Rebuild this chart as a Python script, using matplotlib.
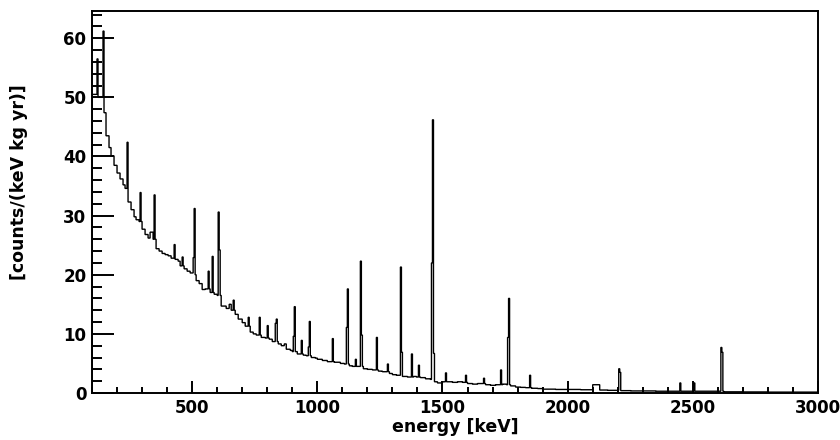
import numpy as np
import matplotlib
matplotlib.use("Agg")
import matplotlib.pyplot as plt
from matplotlib.ticker import MultipleLocator
from matplotlib.transforms import ScaledTranslation

# ---- data ----
# continuum: step values, each starting at the given energy (keV)
cont_e = [100, 124, 148, 156, 166, 176, 186, 200, 210, 222, 232, 244, 256, 266, 276,
          288, 300, 312, 322, 332, 342, 356, 368, 380, 392, 404, 416, 432, 444, 452,
          468, 480, 492, 504, 516, 528, 540, 552, 572, 588, 600, 616, 636, 648, 656,
          672, 684, 700, 712, 732, 744, 756, 776, 790, 808, 820, 844, 856, 868, 876,
          890, 900, 920, 944, 956, 976, 990, 1000, 1020, 1040, 1068, 1090, 1105, 1128,
          1140, 1184, 1200, 1220, 1244, 1260, 1288, 1300, 1316, 1340, 1360, 1384, 1395,
          1412, 1430, 1450, 1468, 1480, 1500, 1520, 1540, 1560, 1580, 1600, 1620, 1640,
          1672, 1690, 1710, 1740, 1756, 1772, 1790, 1810, 1830, 1856, 1880, 1900, 1950,
          2000, 2050, 2100, 2128, 2160, 2212, 2250, 2300, 2350, 2400, 2452, 2500, 2508,
          2560, 2600, 2624, 2700, 2800, 2900]
cont_v = [50.5, 50.0, 47.4, 43.5, 41.5, 40.1, 38.5, 37.2, 36.2, 35.2, 34.6, 32.3, 31.0, 29.8, 29.3,
          29.0, 27.7, 26.8, 26.2, 27.2, 26.0, 24.4, 24.0, 23.6, 23.4, 23.2, 22.8, 22.6, 22.3, 21.5,
          21.0, 20.6, 20.3, 20.0, 19.0, 18.5, 17.5, 17.6, 17.0, 16.7, 16.5, 14.7, 14.3, 15.0, 14.0,
          13.3, 12.5, 11.9, 11.3, 10.3, 10.0, 9.8, 9.4, 9.3, 9.1, 8.7, 8.3, 8.0, 8.3, 7.4,
          7.2, 7.0, 6.6, 6.4, 6.3, 6.0, 5.9, 5.7, 5.5, 5.3, 5.2, 5.0, 4.9, 4.6,
          4.5, 4.1, 4.0, 3.9, 3.7, 3.6, 3.3, 3.1, 3.0, 2.8, 2.7, 2.8, 2.7,
          2.6, 2.4, 2.3, 1.9, 1.7, 1.9, 1.9, 1.8, 1.9, 1.8, 1.6, 1.5, 1.6,
          1.4, 1.3, 1.4, 1.5, 1.4, 1.2, 1.0, 0.95, 0.9, 0.8, 0.75, 0.65, 0.6,
          0.6, 0.55, 1.4, 0.5, 0.45, 0.4, 0.35, 0.35, 0.3, 0.3, 0.3, 0.3, 0.3,
          0.3, 0.3, 0.2, 0.18, 0.15, 0.15]

# peak bins (energy keV, height)
peak_e = [120, 144, 241, 293, 351, 428, 460, 505, 509, 567, 580, 605, 609, 664,
          725, 768, 803, 832, 836, 907, 911, 937, 964, 968, 1060, 1116, 1120, 1155,
          1172, 1176, 1238, 1281, 1332, 1336, 1377, 1405, 1456, 1460, 1464, 1512,
          1592, 1665, 1733, 1760, 1764, 1848, 2204, 2208, 2448, 2505, 2614, 2618]
peak_v = [56.5, 61.2, 42.4, 33.9, 33.5, 25.1, 23.0, 22.9, 31.2, 20.6, 23.1, 30.6, 24.2, 15.7,
          12.8, 12.8, 11.4, 11.8, 12.5, 9.6, 14.6, 8.9, 7.8, 12.1, 9.2, 11.1, 17.6, 5.7,
          22.3, 9.8, 9.4, 4.9, 21.3, 6.9, 6.6, 4.7, 22.0, 46.2, 6.7, 3.4,
          3.0, 2.5, 3.9, 9.4, 16.0, 3.0, 4.1, 3.5, 1.7, 1.7, 7.7, 6.9]

bin_width = 4
e_min, e_max = 100, 3000

# ---- histogram assembly (4 keV bins, step lookup of the read values) ----
edges = np.arange(e_min, e_max + bin_width, bin_width)
idx = np.searchsorted(np.array(cont_e), edges[:-1], side="right") - 1
values = np.array(cont_v)[idx]
for e, v in zip(peak_e, peak_v):
    k = int((e - e_min) // bin_width)
    values[k] = v

plt.rcParams['font.family'] = ['DejaVu Sans']
plt.rcParams['font.weight'] = 'bold'

fig = plt.figure(figsize=(8.4, 4.4), dpi=100)
ax = fig.add_axes([92 / 840, 47 / 440, 726 / 840, 382 / 440])

ax.stairs(values, edges, color='black', lw=1.0)

ax.set_xlim(e_min, e_max)
ax.set_ylim(0, 64.6)

ax.xaxis.set_major_locator(MultipleLocator(500))
ax.xaxis.set_minor_locator(MultipleLocator(100))
ax.yaxis.set_major_locator(MultipleLocator(10))
ax.yaxis.set_minor_locator(MultipleLocator(2))

ax.tick_params(axis='both', which='both', direction='in', top=False, right=False,
               labelsize=12, width=1.4, colors='black')
ax.tick_params(axis='y', which='major', length=15.5, pad=4)
ax.tick_params(axis='y', which='minor', length=7.5)
ax.tick_params(axis='x', which='major', length=8.5, pad=4.6)
ax.tick_params(axis='x', which='minor', length=4.5)
for lab in ax.get_xticklabels() + ax.get_yticklabels():
    lab.set_fontweight('bold')

# keep the last x tick label inside the figure edge
last_tick = ax.xaxis.get_major_ticks()[-1]
last_tick.label1.set_transform(last_tick.label1.get_transform() +
                               ScaledTranslation(-3 / 100, 0, fig.dpi_scale_trans))

for s in ax.spines.values():
    s.set_linewidth(1.4)

ax.set_xlabel('energy [keV]', fontsize=12.5, fontweight='bold')
ax.set_ylabel('[counts/(keV kg yr)]', fontsize=12.5, fontweight='bold')
ax.xaxis.set_label_coords(0.5, -0.066)
ax.yaxis.set_label_coords(-0.088, 0.552)

fig.savefig('out.png', dpi=100)
